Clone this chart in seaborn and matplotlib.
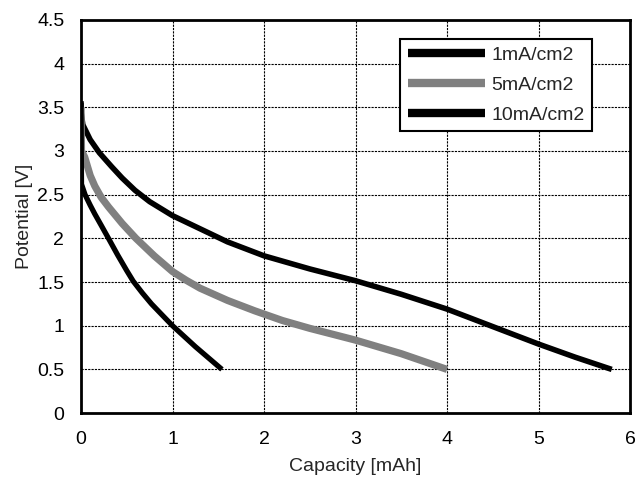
import matplotlib
matplotlib.use("Agg")
import matplotlib.pyplot as plt
import seaborn as sns
import pandas as pd

# Discharge curves: capacity [mAh] vs potential [V] at three current densities
cap_1ma = [0, 0, 0.02, 0.1, 0.2, 0.335, 0.45, 0.59, 0.75, 1.0, 1.2, 1.34, 1.6, 1.9, 2.0,
           2.5, 3.0, 3.5, 4.0, 4.5, 5.0, 5.4, 5.8]
pot_1ma = [3.57, 3.45, 3.3, 3.13, 2.98, 2.82, 2.69, 2.55, 2.42, 2.26, 2.16, 2.09, 1.96, 1.84, 1.80,
           1.65, 1.515, 1.36, 1.19, 0.99, 0.79, 0.64, 0.5]

cap_5ma = [0, 0.005, 0.04, 0.1, 0.15, 0.22, 0.30, 0.45, 0.60, 0.8, 1.0, 1.15, 1.3, 1.6, 1.9,
           2.2, 2.5, 3.0, 3.5, 4.0]
pot_5ma = [3.5, 3.0, 2.93, 2.72, 2.6, 2.47, 2.36, 2.17, 2.0, 1.8, 1.62, 1.52, 1.43, 1.29, 1.17,
           1.06, 0.97, 0.835, 0.68, 0.5]

cap_10ma = [0, 0.005, 0.044, 0.1, 0.15, 0.22, 0.30, 0.40, 0.50, 0.57, 0.67, 0.77, 0.88, 1.0,
            1.25, 1.54]
pot_10ma = [3.55, 2.62, 2.5, 2.38, 2.28, 2.15, 2.0, 1.81, 1.63, 1.51, 1.375, 1.25, 1.13, 1.0,
            0.76, 0.5]

labels = ["1mA/cm2", "5mA/cm2", "10mA/cm2"]
x_ticks = [0, 1, 2, 3, 4, 5, 6]
y_ticks = [0, 0.5, 1, 1.5, 2, 2.5, 3, 3.5, 4, 4.5]

sns.set_style("white")
plt.rcParams["font.family"] = ["Liberation Sans", "DejaVu Sans"]
plt.rcParams["lines.solid_capstyle"] = "butt"

fig = plt.figure(figsize=(6.39, 4.86), dpi=100)
ax = fig.add_axes([0.1268, 0.150, 0.8592, 0.809])

series = [
    (cap_1ma, pot_1ma, labels[0], "black", 4.0),
    (cap_5ma, pot_5ma, labels[1], "#808080", 5.2),
    (cap_10ma, pot_10ma, labels[2], "black", 3.8),
]
for xs, ys, lab, col, lw in series:
    df = pd.DataFrame({"Capacity": xs, "Potential": ys})
    sns.lineplot(data=df, x="Capacity", y="Potential", sort=False, ax=ax,
                 color=col, linewidth=lw, label=lab, estimator=None)

ax.set_xlim(0, 6)
ax.set_ylim(0, 4.5)
ax.set_xticks(x_ticks)
ax.set_yticks(y_ticks)
ax.set_xticklabels([str(t) for t in x_ticks])
ax.set_yticklabels([f"{t:g}" for t in y_ticks])
ax.grid(True, color="black", linestyle=(0, (2, 1)), linewidth=0.8)
ax.set_axisbelow(True)
for s in ax.spines.values():
    s.set_color("black")
    s.set_linewidth(2)
ax.tick_params(axis="both", length=0, labelsize=14, colors="black")
ax.tick_params(axis="x", pad=13)
ax.tick_params(axis="y", pad=12)
ax.set_xlabel("Capacity [mAh]", fontsize=14, labelpad=7)
ax.set_ylabel("Potential [V]", fontsize=14, labelpad=3)

leg = ax.legend(loc="upper right", bbox_to_anchor=(0.931, 0.952), fontsize=14,
                frameon=True, fancybox=False, edgecolor="black", framealpha=1,
                handlelength=4.0, handletextpad=0.3, labelspacing=0.62,
                borderpad=0.4, borderaxespad=0)
leg.get_frame().set_linewidth(1.5)
for h in leg.get_lines():
    h.set_linewidth(6)
    h.set_solid_capstyle("butt")

fig.savefig("out.png", dpi=100)
